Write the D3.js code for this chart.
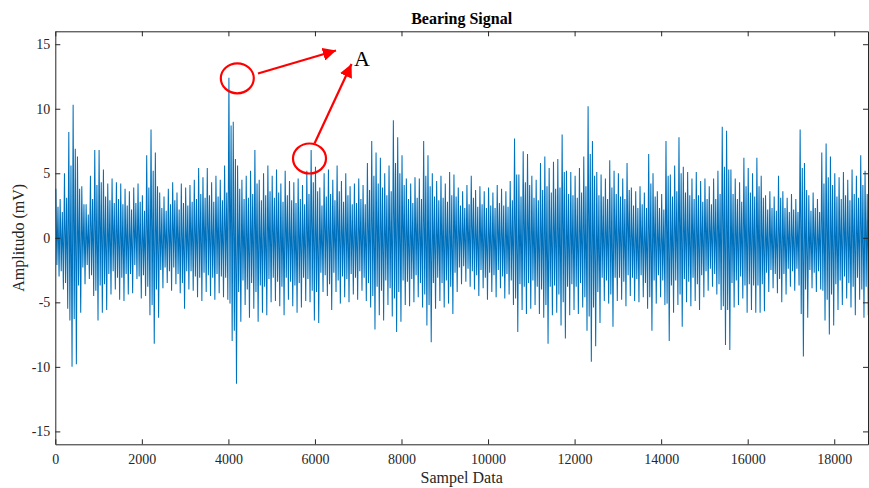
<!DOCTYPE html>
<html>
<head>
<meta charset="utf-8">
<script src="https://d3js.org/d3.v7.min.js"></script>
<style>
  body { margin: 0; background: #fff; }
  svg { font-family: "Liberation Serif", "Times New Roman", serif; }
  .axis path, .axis line { stroke: #262626; }
  .axis text { fill: #262626; font-size: 14px; font-family: "Liberation Serif", serif; }
</style>
</head>
<body>
<svg id="chart" width="869" height="488"></svg>
<script>
// the trace per 100-sample bin:
// outer peaks (peakHigh/peakLow) and the typical inner swing (midHigh/midLow)
var binSize = 100;
var sampleCount = 18780;
var peakHigh = [
  3.8, 3.0, 5.0, 8.2, 10.3, 6.3, 4.0, 2.6, 4.8, 6.8,
  6.8, 5.3, 4.2, 4.6, 4.3, 4.2, 3.8, 3.6, 3.9, 4.2,
  3.3, 6.4, 8.4, 6.6, 3.5, 3.2, 3.8, 4.3, 3.5, 4.2,
  3.9, 4.1, 4.5, 5.4, 4.7, 5.4, 4.3, 4.8, 4.5, 5.6,
  12.4, 9.0, 5.6, 4.5, 4.8, 5.2, 6.8, 4.5, 5.0, 5.6,
  4.8, 5.3, 4.2, 5.2, 4.4, 4.3, 4.6, 4.1, 5.2, 6.8,
  5.5, 3.9, 5.0, 5.3, 4.5, 5.6, 4.4, 5.0, 4.0, 4.2,
  4.6, 4.1, 5.8, 7.5, 6.6, 6.2, 5.0, 5.6, 9.1, 7.8,
  6.4, 4.6, 4.2, 4.7, 4.6, 7.5, 6.4, 5.0, 4.4, 4.8,
  4.2, 5.1, 4.9, 3.9, 3.6, 4.1, 4.8, 3.7, 4.0, 3.6,
  3.9, 3.5, 4.1, 3.8, 3.6, 4.4, 7.7, 4.9, 6.7, 6.5,
  4.8, 4.5, 5.8, 6.3, 5.4, 5.9, 6.1, 8.0, 5.2, 5.1,
  4.8, 5.4, 6.3, 10.2, 7.5, 5.1, 4.9, 4.6, 6.0, 5.2,
  5.0, 4.6, 5.8, 3.9, 3.6, 4.0, 3.5, 6.5, 5.0, 3.6,
  3.4, 7.5, 4.9, 5.6, 7.8, 5.5, 5.1, 4.6, 5.1, 4.4,
  4.6, 4.0, 4.6, 5.2, 8.6, 8.3, 5.3, 4.6, 4.3, 6.2,
  5.4, 5.0, 6.2, 4.8, 3.3, 3.6, 3.2, 4.8, 3.6, 3.1,
  3.4, 3.0, 8.4, 5.8, 3.3, 3.5, 3.0, 6.6, 7.3, 6.3,
  5.0, 4.7, 5.1, 4.5, 5.3, 4.8, 6.4, 5.2
];
var peakLow = [
  -3.0, -4.0, -5.5, -10.0, -9.8, -5.8, -3.6, -3.2, -4.5, -6.4,
  -5.8, -5.6, -4.4, -4.0, -4.8, -4.9, -4.4, -4.3, -3.2, -4.7,
  -4.5, -6.0, -8.2, -6.2, -3.9, -3.5, -4.1, -3.6, -4.3, -5.5,
  -4.0, -4.1, -4.6, -4.9, -4.2, -4.5, -4.8, -4.3, -4.6, -4.8,
  -8.0, -11.3, -6.5, -5.2, -6.2, -5.5, -6.5, -5.8, -6.0, -5.0,
  -4.9, -5.3, -6.0, -4.8, -5.3, -5.8, -5.4, -4.9, -5.0, -6.4,
  -6.6, -4.2, -4.5, -5.6, -4.2, -5.1, -4.6, -5.0, -4.4, -4.8,
  -4.1, -4.9, -5.4, -7.1, -6.0, -6.4, -5.2, -6.1, -7.3, -6.5,
  -5.2, -5.3, -5.0, -4.6, -5.4, -6.8, -8.1, -5.5, -4.9, -5.4,
  -5.1, -5.9, -4.2, -3.6, -3.4, -3.8, -4.0, -4.5, -3.9, -4.8,
  -4.2, -4.6, -3.9, -4.7, -4.4, -5.2, -7.3, -5.6, -5.9, -5.5,
  -5.2, -5.9, -6.2, -8.2, -6.0, -5.8, -6.8, -7.8, -6.0, -5.6,
  -5.9, -5.4, -7.2, -9.6, -8.4, -6.6, -4.9, -5.1, -6.9, -4.9,
  -4.8, -5.3, -4.5, -4.9, -5.0, -4.6, -5.5, -7.2, -5.1, -4.6,
  -5.2, -8.0, -5.8, -5.2, -6.9, -5.0, -5.3, -4.9, -5.6, -4.6,
  -4.1, -3.8, -4.4, -5.6, -8.3, -8.7, -5.4, -5.2, -4.7, -5.8,
  -5.6, -5.8, -5.8, -5.7, -4.2, -3.9, -4.3, -5.0, -4.4, -3.8,
  -4.1, -3.7, -9.2, -6.2, -3.9, -4.2, -4.0, -6.4, -7.5, -6.8,
  -5.6, -5.2, -4.7, -5.4, -6.0, -4.8, -6.2, -6.0
];
var midHigh = [
  2.4, 2.0, 3.1, 5.6, 6.9, 3.8, 2.6, 1.8, 3.0, 4.1,
  4.3, 3.2, 2.9, 2.7, 3.0, 2.6, 2.5, 2.2, 2.7, 2.8,
  2.1, 3.9, 5.2, 4.0, 2.3, 2.1, 2.6, 2.9, 2.2, 2.7,
  2.5, 2.8, 3.0, 3.4, 3.1, 3.3, 2.8, 3.2, 2.9, 3.5,
  8.7, 6.1, 3.8, 3.0, 3.1, 3.4, 4.2, 2.9, 3.3, 3.6,
  3.1, 3.5, 2.8, 3.3, 2.9, 2.7, 3.0, 2.6, 3.4, 4.3,
  3.6, 2.5, 3.2, 3.4, 2.9, 3.6, 2.8, 3.3, 2.6, 2.7,
  3.0, 2.6, 3.7, 4.8, 4.2, 3.9, 3.3, 3.6, 5.8, 5.0,
  4.1, 3.0, 2.7, 3.1, 3.0, 4.8, 4.0, 3.2, 2.9, 3.1,
  2.8, 3.3, 3.2, 2.5, 2.3, 2.6, 3.1, 2.4, 2.6, 2.3,
  2.5, 2.3, 2.7, 2.5, 2.4, 2.9, 4.9, 3.2, 4.3, 4.1,
  3.1, 2.9, 3.7, 4.0, 3.5, 3.8, 3.9, 5.1, 3.4, 3.3,
  3.1, 3.5, 4.0, 6.5, 4.8, 3.3, 3.2, 3.0, 3.9, 3.4,
  3.2, 3.0, 3.7, 2.5, 2.3, 2.6, 2.3, 4.2, 3.2, 2.3,
  2.2, 4.8, 3.2, 3.6, 5.0, 3.5, 3.3, 3.0, 3.3, 2.8,
  3.0, 2.6, 3.0, 3.4, 5.5, 5.3, 3.4, 3.0, 2.8, 4.0,
  3.5, 3.2, 4.0, 3.1, 2.2, 2.3, 2.1, 3.1, 2.3, 2.0,
  2.2, 2.0, 5.4, 3.7, 2.1, 2.3, 2.0, 4.2, 4.7, 4.1,
  3.2, 3.0, 3.3, 2.9, 3.4, 3.1, 4.1, 3.4
];
var midLow = [
  -2.1, -2.6, -3.5, -6.4, -6.3, -3.7, -2.3, -2.1, -2.9, -4.1,
  -3.7, -3.6, -2.8, -2.6, -3.1, -3.1, -2.8, -2.8, -2.1, -3.0,
  -2.9, -3.8, -5.2, -4.0, -2.5, -2.3, -2.6, -2.3, -2.8, -3.5,
  -2.6, -2.6, -3.0, -3.1, -2.7, -2.9, -3.1, -2.8, -3.0, -3.1,
  -5.1, -7.2, -4.2, -3.3, -4.0, -3.5, -4.2, -3.7, -3.8, -3.2,
  -3.1, -3.4, -3.8, -3.1, -3.4, -3.7, -3.5, -3.1, -3.2, -4.1,
  -4.2, -2.7, -2.9, -3.6, -2.7, -3.3, -3.0, -3.2, -2.8, -3.1,
  -2.6, -3.1, -3.5, -4.5, -3.8, -4.1, -3.3, -3.9, -4.7, -4.2,
  -3.3, -3.4, -3.2, -2.9, -3.5, -4.4, -5.2, -3.5, -3.1, -3.5,
  -3.3, -3.8, -2.7, -2.3, -2.2, -2.4, -2.6, -2.9, -2.5, -3.1,
  -2.7, -2.9, -2.5, -3.0, -2.8, -3.3, -4.7, -3.6, -3.8, -3.5,
  -3.3, -3.8, -4.0, -5.2, -3.8, -3.7, -4.4, -5.0, -3.8, -3.6,
  -3.8, -3.5, -4.6, -6.1, -5.4, -4.2, -3.1, -3.3, -4.4, -3.1,
  -3.1, -3.4, -2.9, -3.1, -3.2, -2.9, -3.5, -4.6, -3.3, -2.9,
  -3.3, -5.1, -3.7, -3.3, -4.4, -3.2, -3.4, -3.1, -3.6, -2.9,
  -2.6, -2.4, -2.8, -3.6, -5.3, -5.6, -3.5, -3.3, -3.0, -3.7,
  -3.6, -3.7, -3.7, -3.6, -2.7, -2.5, -2.8, -3.2, -2.8, -2.4,
  -2.6, -2.4, -5.9, -4.0, -2.5, -2.7, -2.6, -4.1, -4.8, -4.4,
  -3.6, -3.3, -3.0, -3.5, -3.8, -3.1, -4.0, -3.8
];

var xTicks = [0, 2000, 4000, 6000, 8000, 10000, 12000, 14000, 16000, 18000];
var yTicks = [-15, -10, -5, 0, 5, 10, 15];
var yRange = [-16, 16];

var svg = d3.select("#chart");
var plotLeft = 55.3, plotRight = 868, plotTop = 31.3, plotBottom = 444.3;

var x = d3.scaleLinear().domain([0, sampleCount]).range([plotLeft, plotRight]);
var y = d3.scaleLinear().domain(yRange).range([plotBottom, plotTop]);
var plainNum = function(d) { return String(d); };

svg.append("clipPath").attr("id", "plotclip")
  .append("rect").attr("x", plotLeft).attr("y", plotTop)
  .attr("width", plotRight - plotLeft).attr("height", plotBottom - plotTop);

// four readings per bin, in order: peak up, inner down, inner up, peak down
var points = [];
peakHigh.forEach(function(h, i) {
  var s = i * binSize;
  points.push([s + 12, h]);
  points.push([s + 37, midLow[i]]);
  points.push([s + 62, midHigh[i]]);
  points.push([s + 87, peakLow[i]]);
});

svg.append("path")
  .datum(points)
  .attr("clip-path", "url(#plotclip)")
  .attr("fill", "none")
  .attr("stroke", "#0072BD")
  .attr("stroke-width", 1.05)
  .attr("d", d3.line().x(function(d) { return x(d[0]); }).y(function(d) { return y(d[1]); }));

// axes, matlab style: ticks inside, box on
svg.append("g").attr("class", "axis")
  .attr("transform", "translate(0," + plotBottom + ")")
  .call(d3.axisBottom(x).tickValues(xTicks).tickFormat(plainNum).tickSizeInner(-5).tickSizeOuter(0).tickPadding(9.5));
svg.append("g").attr("class", "axis")
  .attr("transform", "translate(0," + plotTop + ")")
  .call(d3.axisTop(x).tickValues(xTicks).tickSizeInner(-5).tickSizeOuter(0).tickFormat(""));
svg.append("g").attr("class", "axis")
  .attr("transform", "translate(" + plotLeft + ",0)")
  .call(d3.axisLeft(y).tickValues(yTicks).tickFormat(plainNum).tickSizeInner(-5).tickSizeOuter(0).tickPadding(5));
svg.append("g").attr("class", "axis")
  .attr("transform", "translate(" + plotRight + ",0)")
  .call(d3.axisRight(y).tickValues(yTicks).tickSizeInner(-5).tickSizeOuter(0).tickFormat(""));

// title and labels
svg.append("text")
  .attr("x", (plotLeft + plotRight) / 2).attr("y", 24)
  .attr("text-anchor", "middle")
  .style("font-size", "16px").style("font-weight", "bold").attr("fill", "#000")
  .text("Bearing Signal");

svg.append("text")
  .attr("x", (plotLeft + plotRight) / 2).attr("y", 483)
  .attr("text-anchor", "middle")
  .style("font-size", "16px").attr("fill", "#262626")
  .text("Sampel Data");

svg.append("text")
  .attr("transform", "translate(24," + ((plotTop + plotBottom) / 2) + ") rotate(-90)")
  .attr("text-anchor", "middle")
  .style("font-size", "16px").attr("fill", "#262626")
  .text("Amplitudo (mV)");

// red annotation
var red = "#ff0000";
svg.append("defs").append("marker")
  .attr("id", "arrowhead")
  .attr("viewBox", "0 0 10 10")
  .attr("refX", 10).attr("refY", 5)
  .attr("markerWidth", 6).attr("markerHeight", 6)
  .attr("markerUnits", "strokeWidth")
  .attr("orient", "auto")
  .append("path").attr("d", "M0,0 L10,5 L0,10 z").attr("fill", red);

svg.append("ellipse").attr("cx", 237.3).attr("cy", 78.3).attr("rx", 16.5).attr("ry", 15)
  .attr("fill", "none").attr("stroke", red).attr("stroke-width", 2.2);
svg.append("ellipse").attr("cx", 309.5).attr("cy", 158.5).attr("rx", 16.5).attr("ry", 15)
  .attr("fill", "none").attr("stroke", red).attr("stroke-width", 2.2);

svg.append("line").attr("x1", 258).attr("y1", 73.5).attr("x2", 336).attr("y2", 50.5)
  .attr("stroke", red).attr("stroke-width", 2.2).attr("marker-end", "url(#arrowhead)");
svg.append("line").attr("x1", 314.5).attr("y1", 143.5).attr("x2", 351.5).attr("y2", 64)
  .attr("stroke", red).attr("stroke-width", 2.2).attr("marker-end", "url(#arrowhead)");

svg.append("text")
  .attr("x", 354).attr("y", 66)
  .style("font-size", "22px").attr("fill", "#000")
  .text("A");
</script>
</body>
</html>
